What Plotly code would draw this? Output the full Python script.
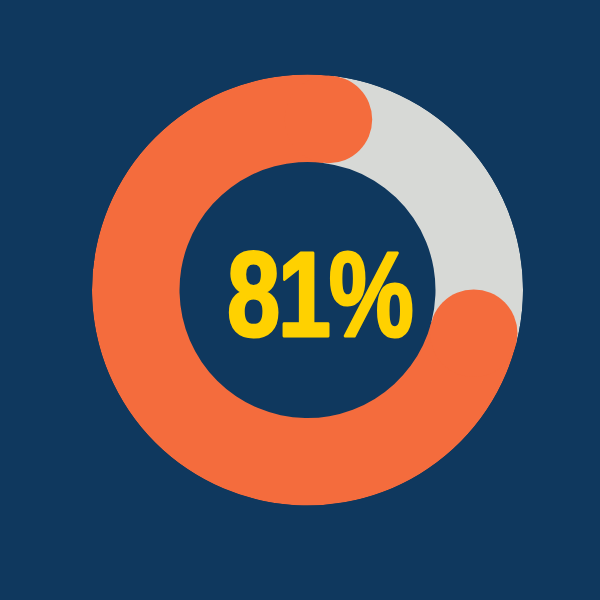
import math
import plotly.graph_objects as go

# donut progress value
value = 81
label = f"{value}%"

# ring geometry (px in a 600x600 page)
outer_r = 215.5
inner_r = 128.0
mid_r = (outer_r + inner_r) / 2
thick = outer_r - inner_r
start_tip = 21.6  # deg clockwise from top where the orange arc's leading tip sits

cap_deg = math.degrees((thick / 2) / mid_r)
arc_total = value / 100 * 360
# cap centres of the orange arc (it runs counter-clockwise from start_tip)
cap_a = start_tip - cap_deg                 # top cap centre
cap_b = start_tip - arc_total + cap_deg     # other cap centre
orange_span = arc_total - 2 * cap_deg
orange_mid = cap_a - orange_span / 2
gray_span = 360 - orange_span
gray_mid = cap_a + gray_span / 2

bg = "#0F385E"
orange = "#F46C3D"
gray = "#D7D9D6"
yellow = "#FFD100"

fig = go.Figure()
fig.add_trace(go.Barpolar(r=[thick], base=[inner_r], theta=[gray_mid], width=[gray_span],
                          marker=dict(color=gray, line=dict(width=0)), hoverinfo="skip"))
fig.add_trace(go.Barpolar(r=[thick], base=[inner_r], theta=[orange_mid], width=[orange_span],
                          marker=dict(color=orange, line=dict(width=0)), hoverinfo="skip"))
fig.add_trace(go.Scatterpolar(r=[mid_r, mid_r], theta=[cap_a, cap_b], mode="markers",
                              marker=dict(size=thick, color=orange, line=dict(width=0)),
                              hoverinfo="skip"))

fig.add_annotation(text=label, x=319 / 600, y=1 - 294 / 600, xref="paper", yref="paper",
                   showarrow=False, xanchor="center", yanchor="middle",
                   font=dict(family="Liberation Sans, Arial, sans-serif",
                             size=121, color=yellow, weight="bold"))

fig.update_layout(
    width=600, height=600,
    margin=dict(l=0, r=0, t=0, b=0),
    paper_bgcolor=bg, plot_bgcolor=bg,
    showlegend=False,
    polar=dict(
        domain=dict(x=[92 / 600, 523 / 600], y=[1 - 505.5 / 600, 1 - 74.5 / 600]),
        bgcolor=bg,
        radialaxis=dict(range=[0, outer_r], visible=False),
        angularaxis=dict(rotation=90, direction="clockwise", visible=False),
        barmode="overlay",
    ),
)

# no page margin, and squeeze the label into a heavy condensed look
post = """
document.body.style.margin = '0';
document.getElementById('{plot_id}').querySelectorAll('.annotation-text').forEach(function (e) {
  e.style.transformBox = 'fill-box';
  e.style.transformOrigin = 'center';
  e.style.transform = 'scaleX(0.79)';
  e.style.letterSpacing = '-3px';
  e.style.stroke = '#FFD100';
  e.style.strokeWidth = '3px';
  e.style.strokeLinejoin = 'round';
});
"""
fig.write_html("out.html", post_script=post, config={"displayModeBar": False})
